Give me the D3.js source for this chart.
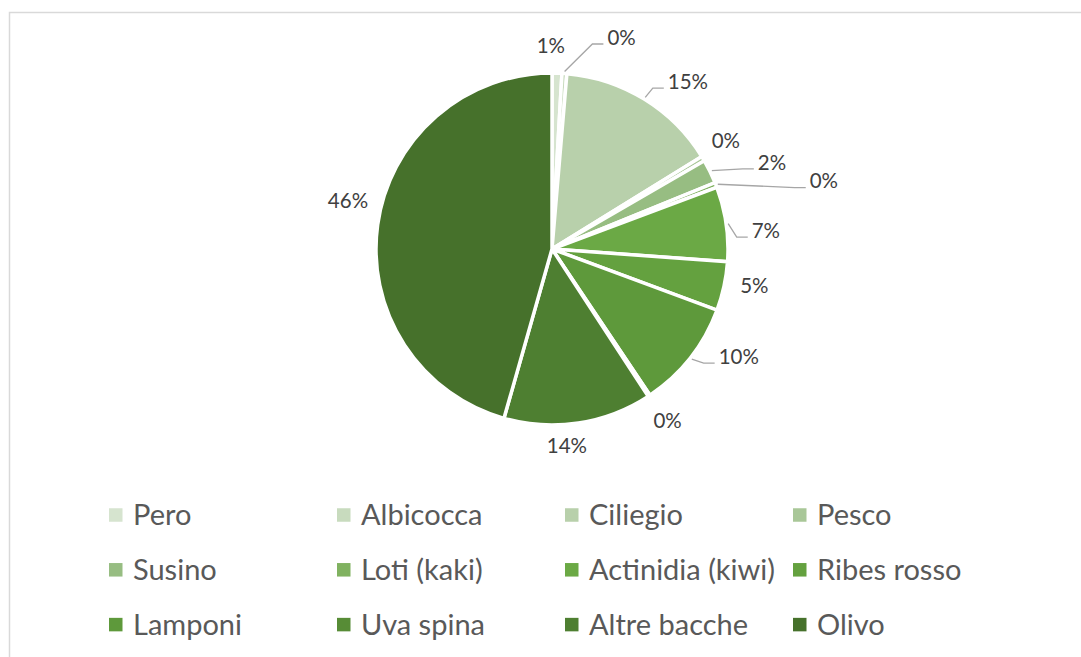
<!DOCTYPE html>
<html>
<head>
<meta charset="utf-8">
<script src="https://cdn.jsdelivr.net/npm/d3@7"></script>
<style>
  html, body { margin: 0; padding: 0; background: #fff; }
  svg { display: block; }
  text { font-family: Lato, "Open Sans", sans-serif; }
</style>
</head>
<body>
<div id="chart"></div>
<script>
// ---- Data ----
const categories = ["Pero", "Albicocca", "Ciliegio", "Pesco", "Susino", "Loti (kaki)",
  "Actinidia (kiwi)", "Ribes rosso", "Lamponi", "Uva spina", "Altre bacche", "Olivo"];
const values = [0.9, 0.45, 14.85, 0.45, 2.2, 0.45, 6.85, 4.5, 9.95, 0.2, 13.6, 45.6];
const colors = ["#d6e4cf", "#c8dbbe", "#b8d0ab", "#a9c798", "#97bd82", "#80b260",
  "#6ba945", "#64a13f", "#5e993b", "#578c36", "#4e7f31", "#46712b"];

// ---- Layout (label nudges relative to default outside position) ----
const labelNudge = [[-7, 3], [55, -6], [28, 8], [-3, -3], [35, 4], [80, 7],
  [10, 11], [1, -7], [25, -20], [2, 0], [-16, -7], [0, -20]];
const withLeader = new Set(["Albicocca", "Ciliegio", "Susino", "Loti (kaki)", "Actinidia (kiwi)", "Lamponi"]);

const W = 1081, H = 657;
const cx = 552, cy = 249, R = 176;

const svg = d3.select("#chart").append("svg").attr("width", W).attr("height", H);

svg.append("rect")
  .attr("x", 9.5).attr("y", 12.5).attr("width", 1080).attr("height", 700)
  .attr("fill", "#fff").attr("stroke", "#d9d9d9").attr("stroke-width", 1.5);

const color = d3.scaleOrdinal().domain(categories).range(colors);

const data = categories.map((c, i) => ({ name: c, value: values[i], idx: i }));
const pie = d3.pie().sort(null).value(d => d.value).startAngle(0).endAngle(2 * Math.PI);
const arcs = pie(data);
const arc = d3.arc().innerRadius(0).outerRadius(R);

const g = svg.append("g").attr("transform", `translate(${cx},${cy})`);

g.selectAll("path.slice").data(arcs).join("path")
  .attr("class", "slice")
  .attr("d", arc)
  .attr("fill", d => color(d.data.name))
  .attr("stroke", "#fff")
  .attr("stroke-width", 3.5)
  .attr("stroke-linejoin", "miter");

const total = d3.sum(values);
const fmt = v => Math.round(v / total * 100) + "%";
const polar = (a, r) => [r * Math.sin(a), -r * Math.cos(a)];

const labelG = svg.append("g").attr("transform", `translate(${cx},${cy})`);
arcs.forEach(d => {
  const mid = (d.startAngle + d.endAngle) / 2;
  const [px, py] = polar(mid, R + 30);
  const nx = px + labelNudge[d.data.idx][0];
  const ny = py + labelNudge[d.data.idx][1];
  const t = labelG.append("text")
    .attr("x", nx).attr("y", ny)
    .attr("text-anchor", "middle")
    .attr("dy", "0.36em")
    .attr("font-size", 20.5)
    .attr("fill", "#404040")
    .text(fmt(d.data.value));
  if (withLeader.has(d.data.name)) {
    const w = t.node().getComputedTextLength();
    const ex = nx - w / 2 - 4, ey = ny + 6.5;
    const [sx, sy] = polar(mid, R + 2);
    const elx = Math.max(sx, ex - 11);
    labelG.append("polyline")
      .attr("points", [[sx, sy], [elx, ey], [ex, ey]].map(p => p.join(",")).join(" "))
      .attr("fill", "none")
      .attr("stroke", "#a6a6a6")
      .attr("stroke-width", 1.3);
  }
});

// ---- Legend ----
const colX = d3.scaleLinear().domain([0, 1]).range([109, 337]);
const rowY = d3.scaleLinear().domain([0, 1]).range([515, 569.8]);
const sw = 13.5;
const leg = svg.append("g").selectAll("g").data(categories).join("g")
  .attr("transform", (d, i) => `translate(${colX(i % 4)},${rowY(Math.floor(i / 4))})`);
leg.append("rect")
  .attr("x", 0).attr("y", -sw / 2).attr("width", sw).attr("height", sw)
  .attr("fill", d => color(d));
leg.append("text")
  .attr("x", 24).attr("y", 0).attr("dy", "0.36em")
  .attr("font-size", 29)
  .attr("fill", "#595959")
  .text(d => d);
</script>
</body>
</html>
